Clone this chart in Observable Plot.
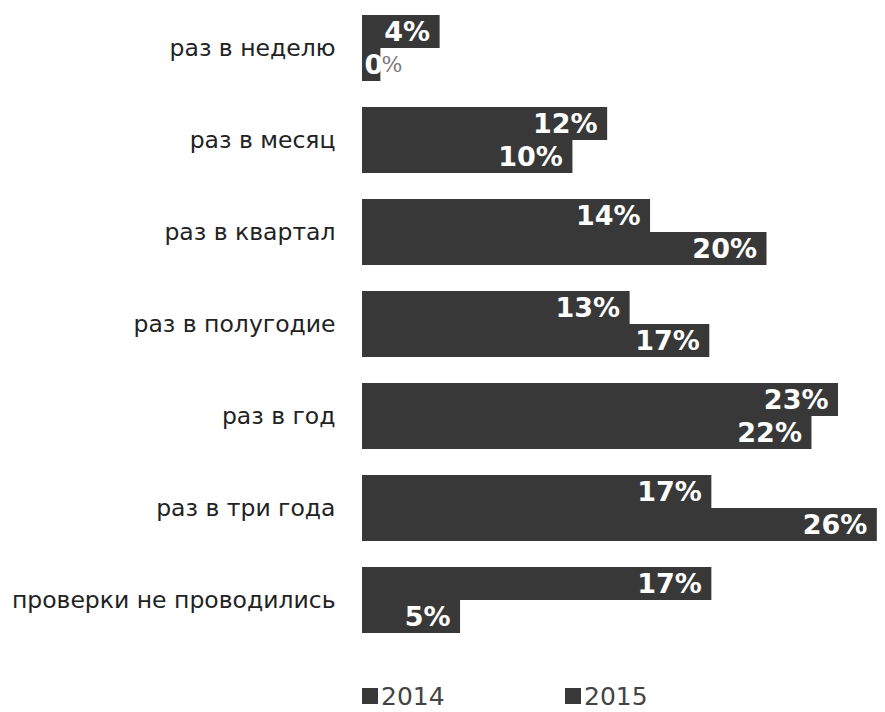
<!DOCTYPE html>
<html><head><meta charset="utf-8">
<script src="https://cdn.jsdelivr.net/npm/d3@7"></script>
<script src="https://cdn.jsdelivr.net/npm/@observablehq/plot@0.6"></script>
<style>
body{margin:0;background:#fff;font-family:"DejaVu Sans",sans-serif;}
#legend{position:relative;height:62px;font-size:25px;color:#444;}
#legend span{position:absolute;top:33px;line-height:28px;}
#legend i{display:inline-block;width:16px;height:16px;background:#383838;margin-right:3px;vertical-align:1px;}
</style></head>
<body>
<div id="chart"></div>
<div id="legend"></div>
<script>
const categories = ["раз в неделю","раз в месяц","раз в квартал","раз в полугодие","раз в год","раз в три года","проверки не проводились"];
const years = ["2014","2015"];
const values2014 = [3.8, 12.0, 14.1, 13.1, 23.3, 17.1, 17.1];
const values2015 = [0.9, 10.3, 19.8, 17.0, 22.0, 25.2, 4.8];
const labels2014 = ["4%","12%","14%","13%","23%","17%","17%"];
const labels2015 = ["0%","10%","20%","17%","22%","26%","5%"];
const barColor = "#383838";

const rows = [];
categories.forEach((c,i)=>{
  rows.push({cat:c, year:"2014", v:values2014[i], label:labels2014[i]});
  rows.push({cat:c, year:"2015", v:values2015[i], label:labels2015[i]});
});
const wide = rows.filter(d=>d.v>=2);
const narrow = rows.filter(d=>d.v<2);

const chart = Plot.plot({
  width:885, height:650,
  marginLeft:362, marginRight:0, marginTop:2, marginBottom:4,
  style:{fontFamily:"DejaVu Sans, sans-serif", background:"#fff"},
  x:{domain:[0,25.6], axis:null},
  y:{domain:years, axis:null, padding:0},
  fy:{domain:categories, paddingInner:0.27, paddingOuter:0.135, label:null},
  marks:[
    Plot.axisFy({tickSize:0, tickPadding:27, fontSize:23.5, fill:"#222", label:null, anchor:"left"}),
    Plot.barX(rows, {fy:"cat", y:"year", x:"v", fill:barColor}),
    Plot.text(wide, {fy:"cat", y:"year", x:"v", text:"label", textAnchor:"end", dx:-10, fill:"#fff", fontWeight:"bold", fontSize:27}),
    Plot.text(narrow, {fy:"cat", y:"year", x:0, text:d=>d.label.slice(0,-1), textAnchor:"start", dx:2, fill:"#fff", fontWeight:"bold", fontSize:27}),
    Plot.text(narrow, {fy:"cat", y:"year", x:0, text:()=>"%", textAnchor:"start", dx:19, fill:"#777", fontSize:22, fontFamily:"DejaVu Serif, serif"})
  ]
});
document.getElementById("chart").appendChild(chart);
const lg = document.getElementById("legend");
const pos = [362, 565];
years.forEach((y,i)=>{
  const s = document.createElement("span");
  s.style.left = pos[i]+"px";
  s.innerHTML = '<i></i>'+y;
  lg.appendChild(s);
});
</script>
</body></html>
